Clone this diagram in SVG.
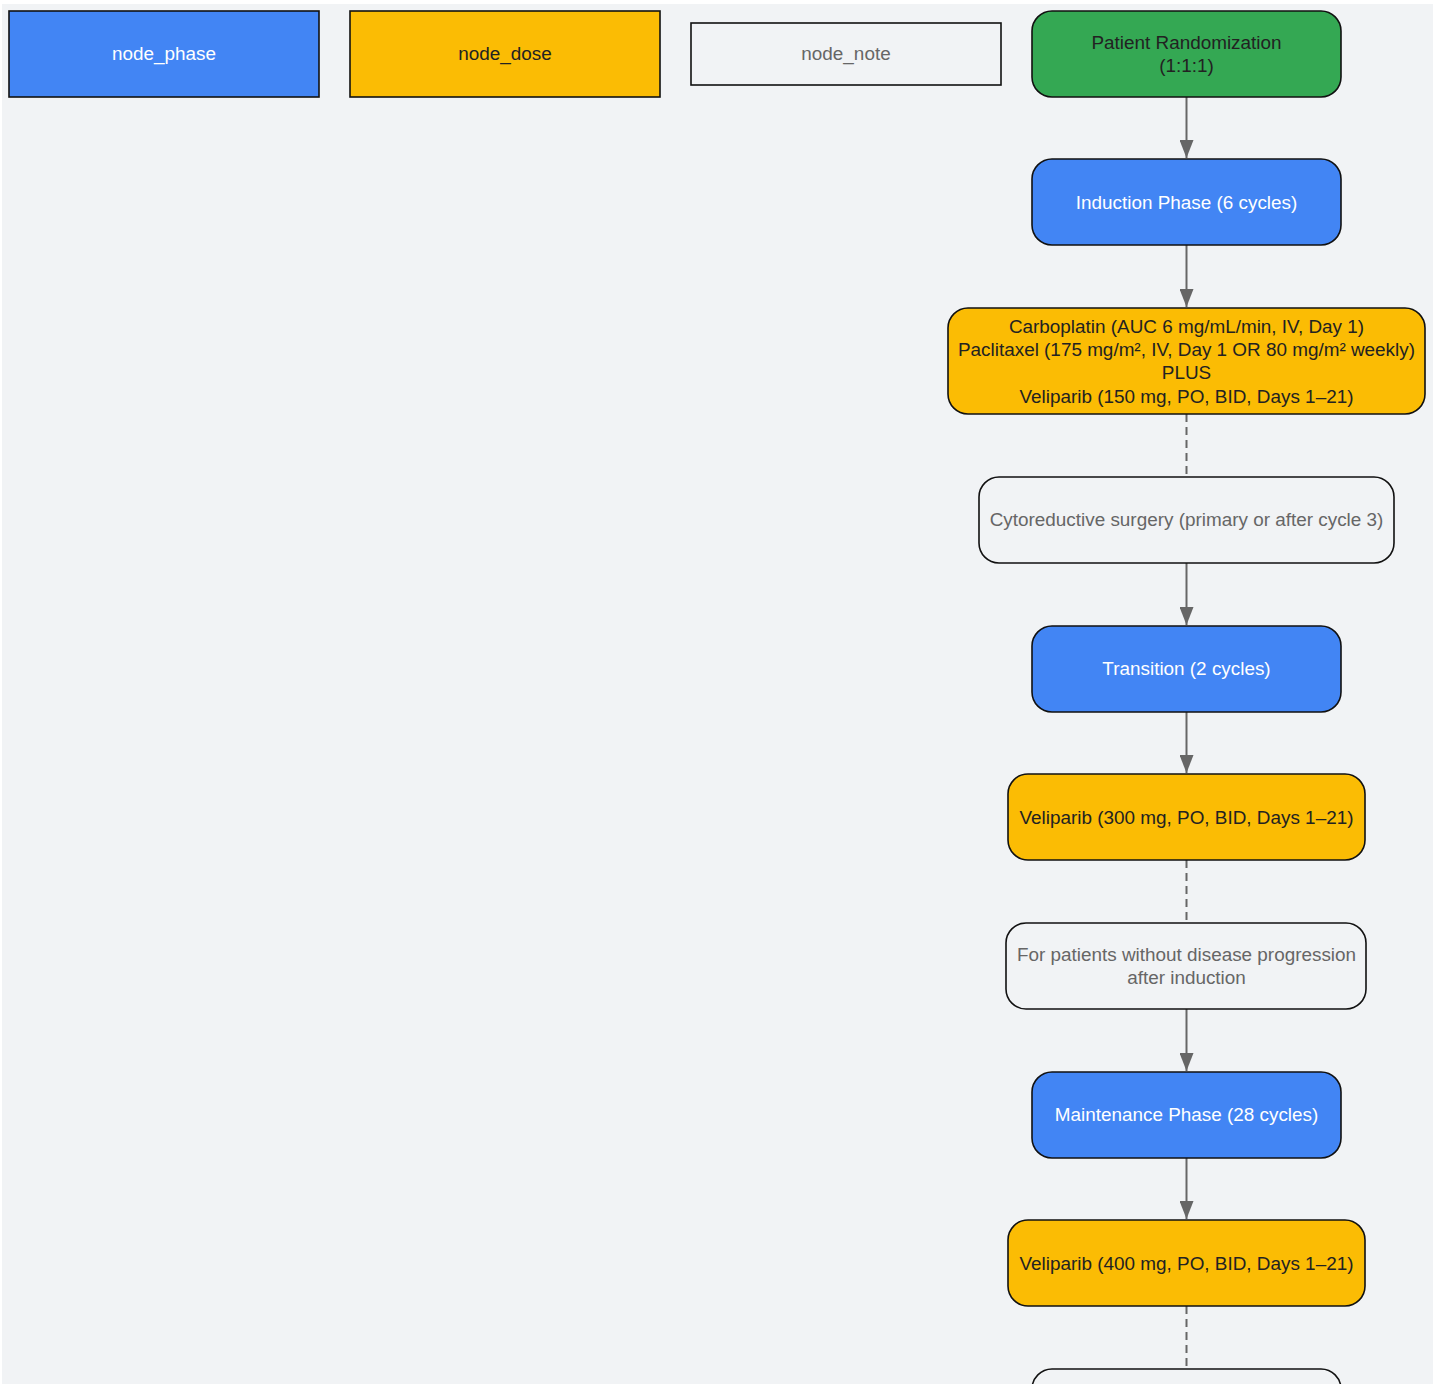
<svg xmlns="http://www.w3.org/2000/svg" width="1441" height="1384" viewBox="0 0 1441 1384">
<defs>
<style>
.n{stroke:#111;stroke-width:1.6}
.phase{fill:#4285f4}
.dose{fill:#fbbc04}
.note{fill:#f1f3f5}
.start{fill:#34a853}
text{font-family:"Liberation Sans",Arial,sans-serif;font-size:18.9px;text-anchor:middle}
.tp{fill:#ffffff}
.td{fill:#222222}
.tn{fill:#666666}
.e{stroke:#666;stroke-width:2;fill:none}
.d{stroke:#666;stroke-width:2;fill:none;stroke-dasharray:8 5}
</style>
<marker id="arr" viewBox="0 0 10 10" refX="10" refY="5" markerWidth="18" markerHeight="14" markerUnits="userSpaceOnUse" orient="auto" preserveAspectRatio="none">
<path d="M0,0 L10,5 L0,10 z" fill="#666"/>
</marker>
</defs>
<rect x="0" y="0" width="1441" height="1384" fill="#ffffff"/>
<rect x="2" y="4" width="1431" height="1380" fill="#f1f3f5"/>
<g id="connectors">
<line class="e" x1="1186.5" y1="97" x2="1186.5" y2="158" marker-end="url(#arr)"/>
<line class="e" x1="1186.5" y1="245" x2="1186.5" y2="307" marker-end="url(#arr)"/>
<line class="d" x1="1186.5" y1="414" x2="1186.5" y2="477"/>
<line class="e" x1="1186.5" y1="563" x2="1186.5" y2="625" marker-end="url(#arr)"/>
<line class="e" x1="1186.5" y1="712" x2="1186.5" y2="773" marker-end="url(#arr)"/>
<line class="d" x1="1186.5" y1="860" x2="1186.5" y2="923"/>
<line class="e" x1="1186.5" y1="1009" x2="1186.5" y2="1071" marker-end="url(#arr)"/>
<line class="e" x1="1186.5" y1="1158" x2="1186.5" y2="1219" marker-end="url(#arr)"/>
<line class="d" x1="1186.5" y1="1306" x2="1186.5" y2="1369"/>
</g>
<g id="legend_phase"><rect class="n phase" x="9" y="11" width="310" height="86"/><text class="tp" x="164" y="60">node_phase</text></g>
<g id="legend_dose"><rect class="n dose" x="350" y="11" width="310" height="86"/><text class="td" x="505" y="60">node_dose</text></g>
<g id="legend_note"><rect class="n note" x="691" y="23" width="310" height="62"/><text class="tn" x="846" y="60">node_note</text></g>
<g id="randomization"><rect class="n start" x="1032" y="11" width="309" height="86" rx="20"/><text class="td" x="1186.5" y="49">Patient Randomization</text><text class="td" x="1186.5" y="72">(1:1:1)</text></g>
<g id="induction"><rect class="n phase" x="1032" y="159" width="309" height="86" rx="20"/><text class="tp" x="1186.5" y="209">Induction Phase (6 cycles)</text></g>
<g id="induction_dose"><rect class="n dose" x="948" y="308" width="477" height="106" rx="20"/>
<text class="td" x="1186.5" y="333">Carboplatin (AUC 6 mg/mL/min, IV, Day 1)</text>
<text class="td" x="1186.5" y="356">Paclitaxel (175 mg/m², IV, Day 1 OR 80 mg/m² weekly)</text>
<text class="td" x="1186.5" y="379">PLUS</text>
<text class="td" x="1186.5" y="403">Veliparib (150 mg, PO, BID, Days 1–21)</text></g>
<g id="surgery"><rect class="n note" x="979" y="477" width="415" height="86" rx="20"/><text class="tn" x="1186.5" y="526">Cytoreductive surgery (primary or after cycle 3)</text></g>
<g id="transition"><rect class="n phase" x="1032" y="626" width="309" height="86" rx="20"/><text class="tp" x="1186.5" y="675">Transition (2 cycles)</text></g>
<g id="transition_dose"><rect class="n dose" x="1008" y="774" width="357" height="86" rx="20"/><text class="td" x="1186.5" y="824">Veliparib (300 mg, PO, BID, Days 1–21)</text></g>
<g id="progression_note"><rect class="n note" x="1006" y="923" width="360" height="86" rx="20"/><text class="tn" x="1186.5" y="961">For patients without disease progression</text><text class="tn" x="1186.5" y="984">after induction</text></g>
<g id="maintenance"><rect class="n phase" x="1032" y="1072" width="309" height="86" rx="20"/><text class="tp" x="1186.5" y="1121">Maintenance Phase (28 cycles)</text></g>
<g id="maintenance_dose"><rect class="n dose" x="1008" y="1220" width="357" height="86" rx="20"/><text class="td" x="1186.5" y="1270">Veliparib (400 mg, PO, BID, Days 1–21)</text></g>
<g id="final_note"><rect class="n note" x="1032" y="1369" width="309" height="86" rx="20"/></g>
</svg>
